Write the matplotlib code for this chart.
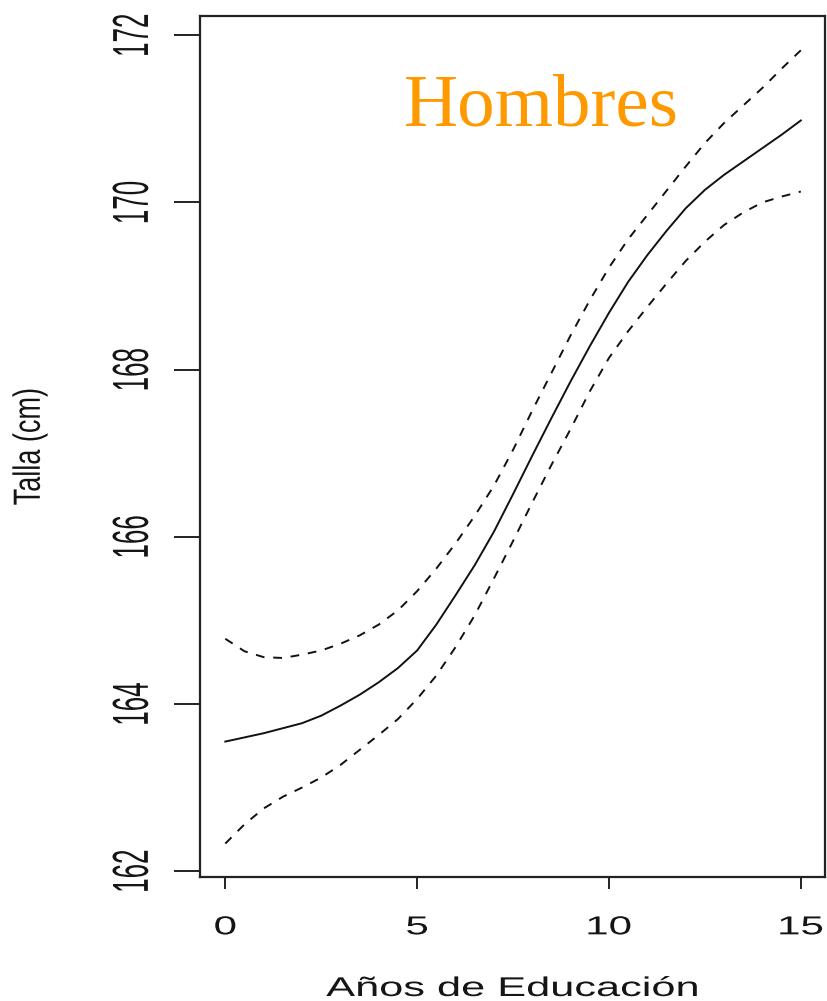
import numpy as np
import matplotlib
matplotlib.use("Agg")
import matplotlib.pyplot as plt
from matplotlib.patheffects import AbstractPathEffect
from matplotlib.transforms import Affine2D
from matplotlib.path import Path

# ---- data ----
anios = [0, 0.5, 1, 1.5, 2, 2.5, 3, 3.5, 4, 4.5, 5, 5.5, 6, 6.5, 7, 7.5,
         8, 8.5, 9, 9.5, 10, 10.5, 11, 11.5, 12, 12.5, 13, 13.5, 14, 14.5, 15]
talla_ajuste = [163.55, 163.60, 163.65, 163.71, 163.77, 163.86, 163.98, 164.11,
                164.26, 164.43, 164.64, 164.95, 165.30, 165.66, 166.06, 166.51,
                166.97, 167.42, 167.86, 168.28, 168.68, 169.05, 169.37, 169.66,
                169.93, 170.15, 170.33, 170.49, 170.65, 170.81, 170.98]
talla_sup = [164.78, 164.63, 164.56, 164.55, 164.59, 164.64, 164.72, 164.82,
             164.95, 165.12, 165.35, 165.62, 165.92, 166.25, 166.61, 167.04,
             167.51, 167.96, 168.41, 168.83, 169.22, 169.56, 169.85, 170.14,
             170.43, 170.71, 170.95, 171.16, 171.37, 171.60, 171.82]
talla_inf = [162.33, 162.56, 162.75, 162.89, 163.00, 163.12, 163.27, 163.45,
             163.63, 163.82, 164.06, 164.34, 164.68, 165.06, 165.50, 165.95,
             166.41, 166.86, 167.29, 167.74, 168.14, 168.46, 168.75, 169.03,
             169.30, 169.53, 169.73, 169.88, 170.00, 170.07, 170.13]
xticks = [0, 5, 10, 15]
yticks = [162, 164, 166, 168, 170, 172]
titulo = "Hombres"
xlabel = "Años de Educación"
ylabel = "Talla (cm)"


class StretchX(AbstractPathEffect):
    """Stretch drawn text horizontally about its own centre."""
    def __init__(self, sx):
        super().__init__()
        self.sx = sx

    def draw_path(self, renderer, gc, tpath, affine, rgbFace=None):
        v = tpath.vertices
        codes = tpath.codes
        if codes is not None:
            v = v[codes != Path.CLOSEPOLY]
        pts = affine.transform(v)
        if len(pts):
            cx = (pts[:, 0].min() + pts[:, 0].max()) / 2
        else:
            cx = 0
        new = affine + Affine2D().translate(-cx, 0).scale(self.sx, 1).translate(cx, 0)
        renderer.draw_path(gc, tpath, new, rgbFace)


W, H = 827, 1001
fig = plt.figure(figsize=(W / 100, H / 100), dpi=100)
L, R, T, B = 200, 825, 16, 877
ax = fig.add_axes([L / W, 1 - B / H, (R - L) / W, (B - T) / H])

lc = "#111111"
ax.plot(anios, talla_ajuste, color=lc, lw=1.4)
ax.plot(anios, talla_sup, color=lc, lw=1.4, linestyle=(0, (4.5, 4.5)))
ax.plot(anios, talla_inf, color=lc, lw=1.4, linestyle=(0, (4.5, 4.5)))

ax.set_xlim(-0.66, 15.63)
ax.set_ylim(161.93, 172.23)

for s in ax.spines.values():
    s.set_linewidth(1.6)
    s.set_color("#222222")

ax.set_xticks(xticks)
ax.set_yticks(yticks)
ax.set_xticklabels([str(v) for v in xticks])
ax.set_yticklabels([str(v) for v in yticks])

fs = 18.7
ax.tick_params(axis="y", length=18.7, width=1.4, color="#222222", pad=30,
               labelsize=fs)
ax.tick_params(axis="x", length=8.6, width=1.4, color="#222222", pad=19,
               labelsize=fs)

for lab in ax.get_yticklabels():
    lab.set_rotation(90)
    lab.set_ha("center")
    lab.set_va("center")
    lab.set_rotation_mode("anchor")
    lab.set_family("Liberation Sans")
    lab.set_color("#151515")
    lab.set_path_effects([StretchX(1.95)])
for lab in ax.get_xticklabels():
    lab.set_family("Liberation Sans")
    lab.set_color("#151515")
    lab.set_path_effects([StretchX(1.62)])

xl = ax.set_xlabel(xlabel, fontsize=19.5, family="Liberation Sans", color="#151515")
xl.set_va("center")
xl.set_path_effects([StretchX(1.6)])
ax.xaxis.set_label_coords(0.5, (B - 989) / (B - T))

yl = ax.set_ylabel(ylabel, fontsize=19.5, family="Liberation Sans", color="#151515")
yl.set_va("center")
yl.set_ha("center")
yl.set_path_effects([StretchX(1.4)])
ax.yaxis.set_label_coords((30 - L) / (R - L), 0.5)

ax.text((541 - L) / (R - L), (B - 125) / (B - T), titulo, transform=ax.transAxes,
        ha="center", va="baseline", fontsize=54, family="Liberation Serif",
        color="#FF9900")

fig.savefig("out.png", dpi=100)
